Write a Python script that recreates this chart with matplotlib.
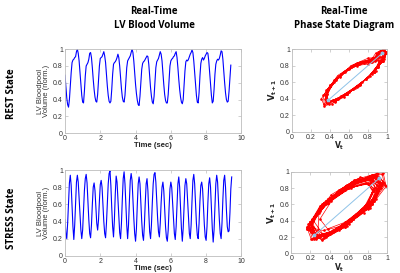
import numpy as np
import matplotlib
matplotlib.use("Agg")
import matplotlib.pyplot as plt
from matplotlib.ticker import FuncFormatter

# LV bloodpool volume (normalised), one value every frame_dt seconds
frame_dt = 0.05

rest_volume = [
    0.69, 0.55, 0.42, 0.34, 0.31, 0.40, 0.56, 0.72, 0.84, 0.87, 0.88, 0.90, 0.91, 0.97, 1.00, 0.95, 0.86, 0.72, 0.58, 0.45, 0.37, 0.36,
    0.50, 0.68, 0.80, 0.82, 0.84, 0.88, 0.95, 0.96, 0.90, 0.78, 0.64, 0.52, 0.43, 0.38, 0.37,
    0.46, 0.62, 0.80, 0.89, 0.90, 0.91, 0.94, 0.97, 0.92, 0.84, 0.70, 0.56, 0.45, 0.38, 0.36, 0.38,
    0.52, 0.70, 0.82, 0.84, 0.85, 0.87, 0.90, 0.94, 0.90, 0.80, 0.66, 0.53, 0.43, 0.38, 0.37,
    0.45, 0.62, 0.78, 0.86, 0.88, 0.90, 0.92, 0.96, 1.00, 0.96, 0.86, 0.72, 0.58, 0.47, 0.39, 0.34, 0.33,
    0.44, 0.60, 0.76, 0.83, 0.85, 0.86, 0.88, 0.90, 0.92, 0.91, 0.82, 0.68, 0.54, 0.44, 0.37, 0.35,
    0.44, 0.62, 0.78, 0.85, 0.87, 0.89, 0.93, 0.97, 0.94, 0.86, 0.72, 0.58, 0.46, 0.39, 0.36, 0.36,
    0.46, 0.64, 0.80, 0.86, 0.88, 0.89, 0.91, 0.92, 0.95, 0.97, 0.90, 0.78, 0.64, 0.52, 0.43, 0.37, 0.35,
    0.40, 0.56, 0.74, 0.85, 0.87, 0.86, 0.88, 0.91, 0.94, 0.96, 0.99, 0.96, 0.86, 0.72, 0.58, 0.45, 0.37,
    0.36, 0.48, 0.68, 0.83, 0.88, 0.90, 0.87, 0.89, 0.92, 0.94, 0.96, 0.95, 0.86, 0.72, 0.57, 0.45, 0.36,
    0.38, 0.52, 0.70, 0.82, 0.86, 0.88, 0.87, 0.89, 0.93, 0.98, 0.97, 0.88, 0.74, 0.60, 0.48, 0.40, 0.37, 0.38,
    0.50, 0.66, 0.81,
]

stress_volume = [
    0.42, 0.26, 0.20, 0.38, 0.62, 0.85, 0.94, 0.82, 0.58, 0.34,
    0.19, 0.36, 0.62, 0.86, 0.94, 0.86, 0.68, 0.48, 0.30,
    0.20, 0.30, 0.52, 0.76, 0.90, 0.95, 0.85, 0.64, 0.42, 0.26,
    0.21, 0.36, 0.60, 0.80, 0.85, 0.76, 0.56, 0.38,
    0.30, 0.42, 0.64, 0.83, 0.88, 0.80, 0.60, 0.40, 0.26,
    0.21, 0.38, 0.62, 0.84, 0.96, 0.99, 0.82, 0.56, 0.34,
    0.22, 0.42, 0.72, 0.93, 0.86, 0.66, 0.44, 0.27,
    0.20, 0.38, 0.66, 0.90, 0.98, 0.84, 0.60, 0.36,
    0.20, 0.36, 0.64, 0.88, 0.96, 0.88, 0.66, 0.44, 0.26,
    0.17, 0.32, 0.60, 0.84, 0.92, 0.84, 0.62, 0.40, 0.24,
    0.18, 0.36, 0.62, 0.84, 0.90, 0.76, 0.50, 0.28,
    0.20, 0.36, 0.62, 0.84, 0.95, 0.97, 0.86, 0.64, 0.44, 0.28,
    0.22, 0.38, 0.62, 0.80, 0.86, 0.76, 0.54, 0.34, 0.21,
    0.17, 0.30, 0.56, 0.78, 0.86, 0.80, 0.62, 0.42, 0.26,
    0.19, 0.34, 0.60, 0.84, 0.92, 0.80, 0.56, 0.32,
    0.17, 0.32, 0.58, 0.82, 0.90, 0.84, 0.64, 0.42, 0.26,
    0.20, 0.36, 0.64, 0.88, 0.95, 0.84, 0.60, 0.38, 0.24,
    0.20, 0.38, 0.64, 0.82, 0.86, 0.78, 0.56, 0.36, 0.22,
    0.18, 0.34, 0.62, 0.84, 0.91, 0.80, 0.56, 0.32,
    0.16, 0.30, 0.58, 0.84, 0.94, 0.86, 0.64, 0.42, 0.26,
    0.20, 0.38, 0.66, 0.88, 0.94, 0.80, 0.54, 0.34,
    0.28, 0.29, 0.50, 0.78, 0.92,
]

# light blue reference line in the phase diagrams
rest_diag_x = [0.38, 0.95]
rest_diag_y = [0.38, 0.95]
stress_diag_x = [0.24, 0.92]
stress_diag_y = [0.22, 0.92]

time_ticks = [0, 2, 4, 6, 8, 10]
vol_ticks = [0, 0.2, 0.4, 0.6, 0.8, 1]

tick_font = "Liberation Sans"
head_font = "Open Sans"
fmt = FuncFormatter(lambda v, p: "%g" % v)

plt.rcParams["mathtext.fontset"] = "dejavusans"
fig = plt.figure(figsize=(4, 2.73), dpi=100)


def style(ax):
    for s in ax.spines.values():
        s.set_color("#bdbdbd")
        s.set_linewidth(0.6)
    ax.tick_params(direction="in", length=2, width=0.5, color="#bdbdbd",
                   labelsize=5, labelcolor="#333333", pad=1.5,
                   top=True, right=True)
    for lab in ax.get_xticklabels() + ax.get_yticklabels():
        lab.set_fontfamily(tick_font)
    ax.xaxis.set_major_formatter(fmt)
    ax.yaxis.set_major_formatter(fmt)


def volume_axes(rect, values):
    ax = fig.add_axes(rect)
    t = np.arange(len(values)) * frame_dt
    ax.plot(t, values, color="blue", lw=0.8)
    ax.set_xlim(0, 10)
    ax.set_ylim(0, 1)
    ax.set_xticks(time_ticks)
    ax.set_yticks(vol_ticks)
    style(ax)
    ax.set_xlabel("Time (sec)", fontsize=5.5, fontweight="bold",
                  family=tick_font, color="#222222", labelpad=0)
    ax.set_ylabel("LV Bloodpool\nVolume (norm.)", fontsize=5.5,
                  family=tick_font, color="#333333", labelpad=2,
                  linespacing=0.95)
    return ax


def phase_axes(rect, values, dx, dy):
    ax = fig.add_axes(rect)
    v = np.array(values)
    ax.plot(v[:-1], v[1:], color="red", lw=0.5, marker=".", ms=1.8)
    ax.plot(dx, dy, color="#8fc3e8", lw=0.7, marker="*", ms=2.5)
    ax.set_xlim(0, 1)
    ax.set_ylim(0, 1)
    ax.set_xticks(vol_ticks)
    ax.set_yticks(vol_ticks)
    style(ax)
    ax.set_xlabel(r"$\mathbf{V_t}$", fontsize=5.5, color="#222222")
    ax.xaxis.set_label_coords(0.5, -0.1)
    ax.set_ylabel(r"$\mathbf{V_{t+1}}$", fontsize=6, color="#222222", labelpad=1)
    return ax


volume_axes([0.1625, 0.512, 0.441, 0.308], rest_volume)
volume_axes([0.1625, 0.063, 0.441, 0.314], stress_volume)
phase_axes([0.73, 0.518, 0.2375, 0.302], rest_volume, rest_diag_x, rest_diag_y)
phase_axes([0.728, 0.072, 0.2395, 0.299], stress_volume, stress_diag_x, stress_diag_y)

fig.text(0.385, 0.933, "Real-Time\nLV Blood Volume", ha="center", va="center",
         fontsize=7, fontweight="bold", family=head_font, linespacing=1.4)
fig.text(0.86, 0.933, "Real-Time\nPhase State Diagram", ha="center", va="center",
         fontsize=7, fontweight="bold", family=head_font, linespacing=1.4)
fig.text(0.03, 0.655, "REST State", rotation=90, ha="center", va="center",
         fontsize=7, fontweight="bold", family=head_font)
fig.text(0.03, 0.2, "STRESS State", rotation=90, ha="center", va="center",
         fontsize=7, fontweight="bold", family=head_font)

fig.savefig("out.png", dpi=100)
